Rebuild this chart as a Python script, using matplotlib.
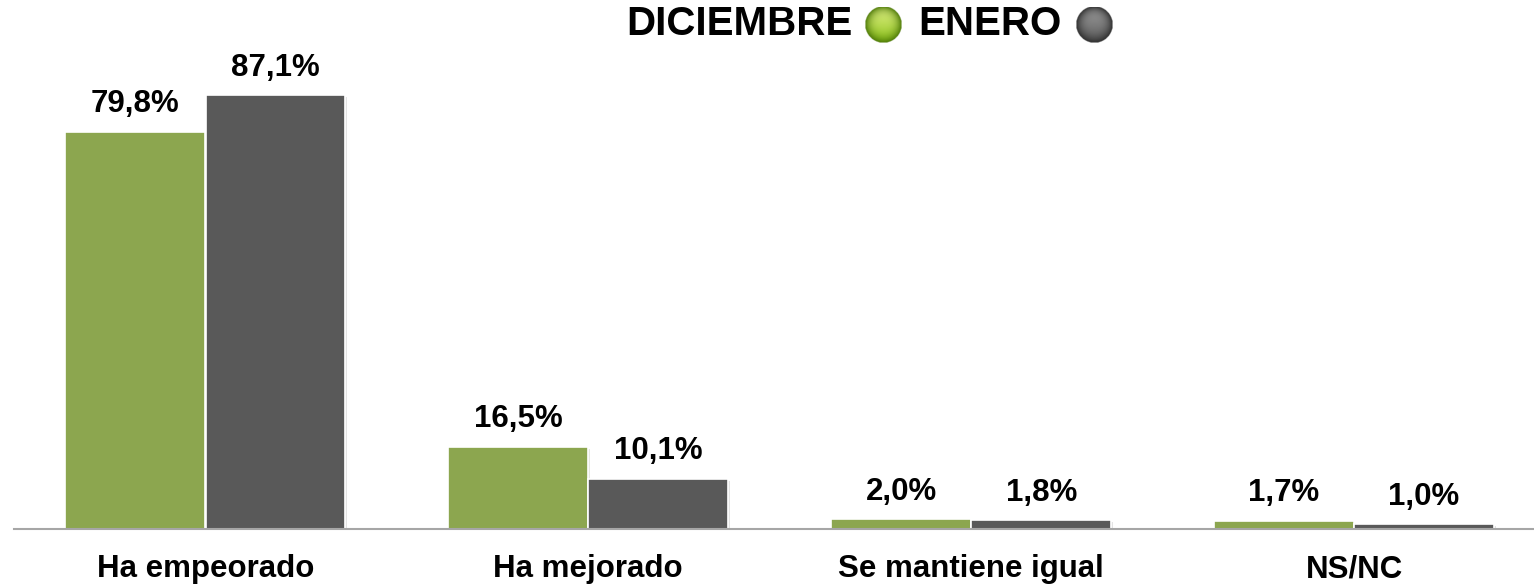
import numpy as np
import matplotlib
matplotlib.use("Agg")
import matplotlib.pyplot as plt
import matplotlib.patheffects as pe

categories = ["Ha empeorado", "Ha mejorado", "Se mantiene igual", "NS/NC"]
diciembre = [79.8, 16.5, 2.0, 1.7]
enero = [87.1, 10.1, 1.8, 1.0]

green = "#8CA64F"
gray = "#595959"

plt.rcParams["font.family"] = ["Liberation Sans", "DejaVu Sans"]

W, H = 1534, 585


def sphere_image(base, light, dark, n=80):
    # shaded ball with light from the top
    yy, xx = np.mgrid[-1:1:n * 1j, -1:1:n * 1j]
    r = np.sqrt(xx ** 2 + yy ** 2)
    img = np.zeros((n, n, 4))
    base = np.array(matplotlib.colors.to_rgb(base))
    light = np.array(matplotlib.colors.to_rgb(light))
    dark = np.array(matplotlib.colors.to_rgb(dark))
    t = np.clip((yy + 1) / 2, 0, 1)  # 0 top, 1 bottom
    for c in range(3):
        top = light[c] * (1 - t) + base[c] * t
        img[..., c] = top * (1 - r ** 3) + dark[c] * r ** 3
    img[..., 3] = (r <= 1).astype(float)
    return img


def fmt(v):
    return ("%.1f%%" % v).replace(".", ",")


fig = plt.figure(figsize=(W / 100, H / 100), dpi=100)
ax = fig.add_axes([14 / W, 56 / H, 1520 / W, 498 / H])

x = np.arange(len(categories))
off = 0.183
width = 0.365
shadow = [pe.SimplePatchShadow(offset=(1.5, -1.5), alpha=0.12), pe.Normal()]

b1 = ax.bar(x - off, diciembre, width, color=green, edgecolor="white", linewidth=1.2)
b2 = ax.bar(x + off, enero, width, color=gray, edgecolor="white", linewidth=1.2)
for b in list(b1) + list(b2):
    b.set_path_effects(shadow)

for bars, vals in [(b1, diciembre), (b2, enero)]:
    for b, v in zip(bars, vals):
        ax.annotate(fmt(v), (b.get_x() + b.get_width() / 2, v),
                    xytext=(0, 14), textcoords="offset points",
                    ha="center", va="baseline", fontsize=22.5,
                    fontweight="bold", color="black")

ax.set_xlim(-0.5, 3.47)
ax.set_ylim(0, 100)
ax.set_xticks(x)
ax.set_xticklabels(categories, fontsize=22.5, fontweight="bold")
ax.tick_params(axis="x", length=0, pad=18)
ax.set_yticks([])
for s in ["top", "right", "left"]:
    ax.spines[s].set_visible(False)
ax.spines["bottom"].set_color("#A6A6A6")
ax.spines["bottom"].set_linewidth(1.5)

# title with sphere markers
ty = 1 - 35 / H
fig.text(739 / W, ty, "DICIEMBRE", ha="center", va="baseline",
         fontsize=29, fontweight="bold")
fig.text(990 / W, ty, "ENERO", ha="center", va="baseline",
         fontsize=29, fontweight="bold")

d = 37
for cx, cols in [(883, ("#8CC21A", "#E4F28A", "#4E7A08")),
                 (1094, ("#5A5A5A", "#A0A0A0", "#2E2E2E"))]:
    sax = fig.add_axes([(cx - d / 2) / W, 1 - (25 + d / 2) / H, d / W, d / H])
    sax.imshow(sphere_image(*cols), extent=(0, 1, 0, 1), interpolation="bilinear")
    sax.set_axis_off()

fig.savefig("out.png", dpi=100)
